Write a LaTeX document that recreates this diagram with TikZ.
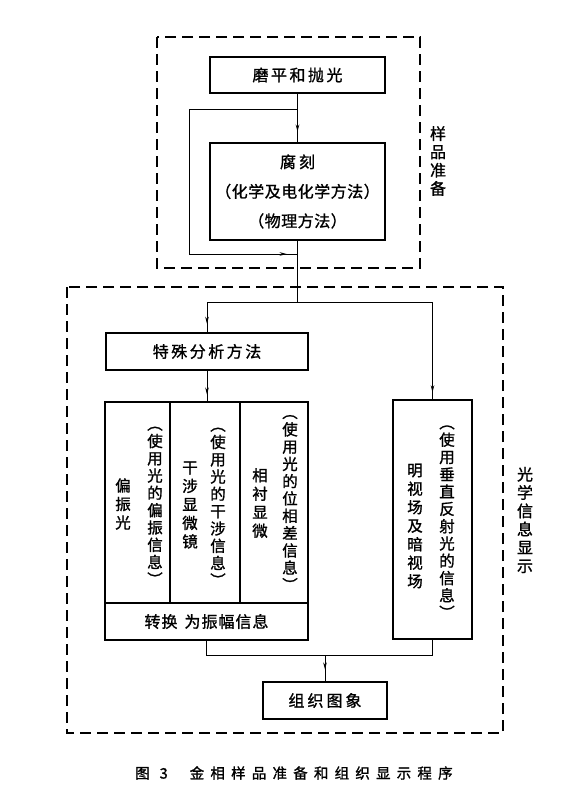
\documentclass[tikz,border=0pt]{standalone}
\usepackage{fontspec}
\newfontfamily\cjk[FakeBold=1.2]{Noto Sans CJK SC}
\usetikzlibrary{arrows.meta,decorations.markings}
\newlength\gapw
\def\spreadtxt#1#2{\setlength\gapw{#1}\spreadA#2\relax}
\def\spreadA#1{\ifx\relax#1\else#1\hspace{\gapw}\expandafter\spreadA\fi}
\begin{document}
\begin{tikzpicture}[x=1pt,y=-1pt,
  box/.style={draw, line width=1.6pt, inner sep=0pt, font=\cjk\fontsize{16}{18}\selectfont},
  vmain/.style={inner sep=0pt, align=center, font=\cjk\fontsize{15.5}{18.5}\selectfont},
  vnote/.style={inner sep=0pt, align=center, font=\cjk\fontsize{15.5}{17.3}\selectfont},
  side/.style={inner sep=0pt, align=center, font=\cjk\fontsize{16}{18.3}\selectfont},
  conn/.style={line width=0.9pt},
  frame/.style={line width=1.4pt, dash pattern=on 11pt off 6pt},
  marr/.style={postaction={decorate}, decoration={markings, mark=at position #1 with {\arrow{Stealth[length=7pt,width=3.6pt]}}}}]
\useasboundingbox (0,0) rectangle (586,800);
\fill[white] (0,0) rectangle (586,800);

% dashed frames
\draw[frame] (157,37) rectangle (420,268);
\draw[frame] (67,287) rectangle (503,733);
\node[side] (lab1) at (438,161) {样\\品\\准\\备};
\node[side] (lab2) at (525,520) {光\\学\\信\\息\\显\\示};

% boxes
\node[box, minimum width=175pt, minimum height=36pt] (polish) at (297.5,75) {\spreadtxt{2.5pt}{磨平和抛光}};
\node[box, minimum width=175pt, minimum height=97pt, align=center,
      font=\cjk\fontsize{16}{29.5}\selectfont] (etch) at (297.5,191.5)
      {\spreadtxt{3pt}{腐刻}\\\spreadtxt{0.5pt}{（化学及电化学方法）}\\\spreadtxt{0.5pt}{（物理方法）}};
\node[box, minimum width=202pt, minimum height=37pt] (tes) at (207,351.5) {\spreadtxt{2.5pt}{特殊分析方法}};
\node[box, minimum width=65pt, minimum height=201pt] (col1) at (137.5,502.5) {};
\node[box, minimum width=70pt, minimum height=201pt] (col2) at (205,502.5) {};
\node[box, minimum width=68pt, minimum height=201pt] (col3) at (274,502.5) {};
\node[box, minimum width=203pt, minimum height=37pt] (conv) at (206.5,621.5) {\spreadtxt{1pt}{转换}\hspace{6pt}\spreadtxt{1pt}{为振幅信息}};
\node[box, minimum width=79pt, minimum height=239pt] (rbox) at (432.5,519.5) {};
\node[box, minimum width=124pt, minimum height=37pt] (img) at (325,700.5) {\spreadtxt{3pt}{组织图象}};

% vertical texts
\node[vmain] (t1) at (123,504) {偏\\振\\光};
\node[vnote] (n1) at (155,506) {︵\\使\\用\\光\\的\\偏\\振\\信\\息\\︶};
\node[vmain] (t2) at (190,505) {干\\涉\\显\\微\\镜};
\node[vnote] (n2) at (218,507) {︵\\使\\用\\光\\的\\干\\涉\\信\\息\\︶};
\node[vmain] (t3) at (260,503) {相\\衬\\显\\微};
\node[vnote] (n3) at (290,503) {︵\\使\\用\\光\\的\\位\\相\\差\\信\\息\\︶};
\node[vmain] (t4) at (415,526) {明\\视\\场\\及\\暗\\视\\场};
\node[vnote] (n4) at (447,522) {︵\\使\\用\\垂\\直\\反\\射\\光\\的\\信\\息\\︶};

% connectors
\coordinate (j1) at (297.5,109);
\coordinate (lpA) at (189,109);
\coordinate (lpB) at (189,254);
\coordinate (j2) at (297.5,254);
\coordinate (s) at (297.5,302);
\coordinate (b) at (325,655);
\draw[conn, marr=0.78] (polish.south) -- (etch.north);
\draw[conn, marr=0.97] (j1) -- (lpA) -- (lpB) -- (j2);
\draw[conn] (etch.south) -- (s);
\draw[conn, marr=0.93] (s) -| (tes.north);
\draw[conn, marr=0.97] (s) -| (rbox.north);
\draw[conn, marr=0.78] (tes.south) -- (tes.south |- col2.north);
\draw[conn] (conv.south) -- ++(0,15) -| (rbox.south);
\draw[conn, marr=0.55] (b) -- (img.north);

% caption
\node[anchor=west, inner sep=0pt, font=\cjk\fontsize{14.5}{16}\selectfont] (cap) at (135,773)
  {图\hspace{10pt}3\hspace{22pt}\spreadtxt{6.2pt}{金相样品准备和组织显示程序}};
\end{tikzpicture}
\end{document}
